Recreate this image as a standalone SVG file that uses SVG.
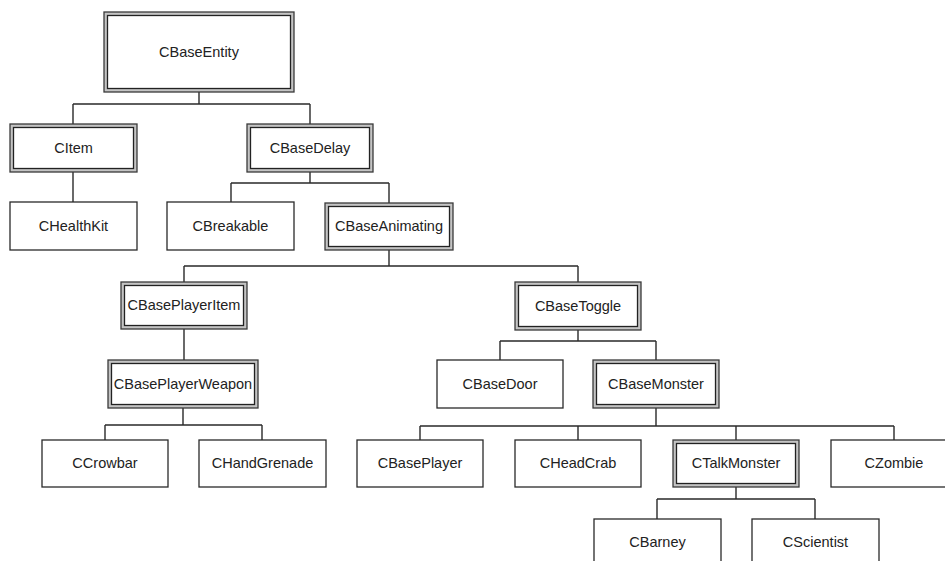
<svg xmlns="http://www.w3.org/2000/svg" width="945" height="561" viewBox="0 0 945 561">
<style>
  .s rect { fill: #fff; stroke: #2a2a2a; stroke-width: 1.3; }
  .d rect.o { fill: #c4c4c4; stroke: #3a3a3a; stroke-width: 1.3; }
  .d rect.i { fill: #fff; stroke: #222; stroke-width: 1.3; }
  text { font-family: "Liberation Sans", Arial, sans-serif; font-size: 14.5px; fill: #222; text-anchor: middle; }
  #connectors path { fill: none; stroke: #2a2a2a; stroke-width: 1.4; }
</style>
<rect width="945" height="561" fill="#fff"/>
<g id="connectors">
  <path d="M199 92V104M73 104H310M73 104V124M310 104V124"/>
  <path d="M73 172V202"/>
  <path d="M310 172V183M231 183H389M231 183V202M389 183V203"/>
  <path d="M389 250V266M184 266H578M184 266V282M578 266V282"/>
  <path d="M184 329V360"/>
  <path d="M578 330V341M500 341H656M500 341V360M656 341V360"/>
  <path d="M183 408V425M105 425H262M105 425V440M262 425V440"/>
  <path d="M656 408V426M420 426H894M420 426V440M578 426V440M736 426V440M894 426V440"/>
  <path d="M736 487V499M657 499H815M657 499V519M815 499V519"/>
</g>
<g id="CBaseEntity" class="d"><rect class="o" x="104" y="12" width="190" height="80"/><rect class="i" x="107.5" y="15.5" width="183" height="73"/><text x="199" y="57">CBaseEntity</text></g>
<g id="CItem" class="d"><rect class="o" x="10" y="124" width="127" height="48"/><rect class="i" x="13.5" y="127.5" width="120" height="41"/><text x="73.5" y="153">CItem</text></g>
<g id="CBaseDelay" class="d"><rect class="o" x="247" y="124" width="126" height="48"/><rect class="i" x="250.5" y="127.5" width="119" height="41"/><text x="310" y="153">CBaseDelay</text></g>
<g id="CHealthKit" class="s"><rect x="10" y="202" width="127" height="48"/><text x="73.5" y="231">CHealthKit</text></g>
<g id="CBreakable" class="s"><rect x="167" y="202" width="127" height="48"/><text x="230.5" y="231">CBreakable</text></g>
<g id="CBaseAnimating" class="d"><rect class="o" x="325" y="203" width="128" height="47"/><rect class="i" x="328.5" y="206.5" width="121" height="40"/><text x="389" y="231">CBaseAnimating</text></g>
<g id="CBasePlayerItem" class="d"><rect class="o" x="121" y="282" width="126" height="47"/><rect class="i" x="124.5" y="285.5" width="119" height="40"/><text x="184" y="310">CBasePlayerItem</text></g>
<g id="CBaseToggle" class="d"><rect class="o" x="515" y="282" width="126" height="48"/><rect class="i" x="518.5" y="285.5" width="119" height="41"/><text x="578" y="311">CBaseToggle</text></g>
<g id="CBasePlayerWeapon" class="d"><rect class="o" x="108" y="360" width="150" height="48"/><rect class="i" x="111.5" y="363.5" width="143" height="41"/><text x="183" y="389">CBasePlayerWeapon</text></g>
<g id="CBaseDoor" class="s"><rect x="437" y="360" width="126" height="48"/><text x="500" y="389">CBaseDoor</text></g>
<g id="CBaseMonster" class="d"><rect class="o" x="593" y="360" width="126" height="48"/><rect class="i" x="596.5" y="363.5" width="119" height="41"/><text x="656" y="389">CBaseMonster</text></g>
<g id="CCrowbar" class="s"><rect x="42" y="440" width="126" height="47"/><text x="105" y="468">CCrowbar</text></g>
<g id="CHandGrenade" class="s"><rect x="199" y="440" width="127" height="47"/><text x="262.5" y="468">CHandGrenade</text></g>
<g id="CBasePlayer" class="s"><rect x="357" y="440" width="126" height="47"/><text x="420" y="468">CBasePlayer</text></g>
<g id="CHeadCrab" class="s"><rect x="515" y="440" width="126" height="47"/><text x="578" y="468">CHeadCrab</text></g>
<g id="CTalkMonster" class="d"><rect class="o" x="673" y="440" width="126" height="47"/><rect class="i" x="676.5" y="443.5" width="119" height="40"/><text x="736" y="468">CTalkMonster</text></g>
<g id="CZombie" class="s"><rect x="831" y="440" width="126" height="47"/><text x="894" y="468">CZombie</text></g>
<g id="CBarney" class="s"><rect x="594" y="519" width="127" height="48"/><text x="657.5" y="547">CBarney</text></g>
<g id="CScientist" class="s"><rect x="752" y="519" width="127" height="48"/><text x="815.5" y="547">CScientist</text></g>
</svg>
